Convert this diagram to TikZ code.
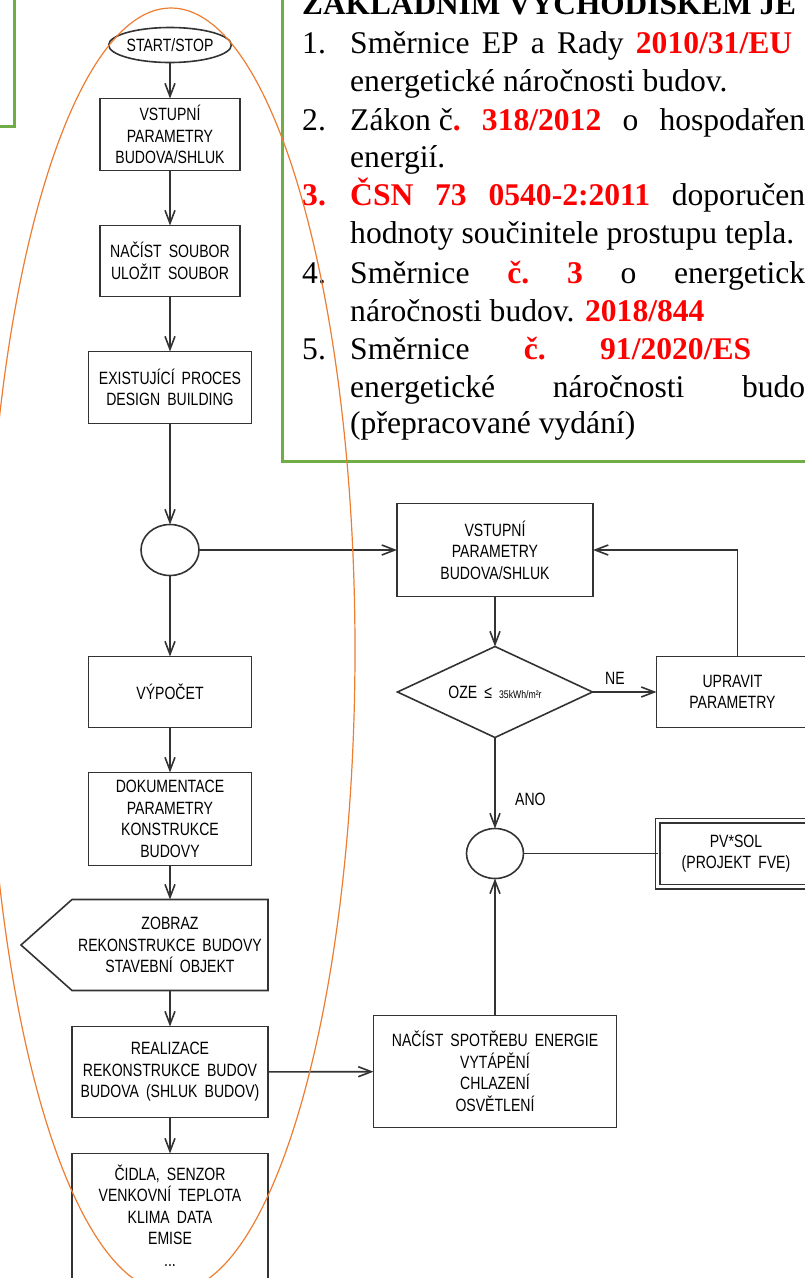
\documentclass[tikz,border=0pt]{standalone}
\usepackage{fontspec}
\setmainfont{Liberation Serif}
\newfontfamily\cadfont[FakeStretch=0.79,WordSpace=1.8]{Liberation Sans}
\usetikzlibrary{positioning,shapes.geometric,arrows.meta}
\definecolor{Frame}{HTML}{70AD47}
\definecolor{Loop}{HTML}{ED7D31}
\definecolor{Ink}{HTML}{333333}
\definecolor{LawRed}{HTML}{FF0000}
\newcommand{\hl}[1]{\textcolor{LawRed}{\textbf{#1}}}

\begin{document}
\begin{tikzpicture}[x=1pt, y=-1pt, every node/.style={font=\cadfont\fontsize{17.8}{21.5}\selectfont}]
        \tikzstyle{blk}=[draw=Ink, line width=1.6pt, fill=white, align=center, inner sep=0pt, outer sep=0pt]
        \tikzstyle{lnk}=[draw=Ink, line width=1.6pt]
        \tikzstyle{arr}=[lnk, -{Straight Barb[length=13pt,width=10pt]}]
        \tikzstyle{law}=[anchor=base west, inner sep=0pt, font=\rmfamily\fontsize{31.6}{38}\selectfont]
        \useasboundingbox (0,0) rectangle (805,1278);
        \clip (0,0) rectangle (805,1278);
        % frames
        \draw[Frame, line width=3pt] (-20,-20) rectangle (14,126);
        \draw[Frame, line width=3pt] (282,-20) rectangle (840,461);
        % legal basis
        \node[law, font=\rmfamily\bfseries\fontsize{31.3}{38}\selectfont] (head) at (302,14) {ZÁKLADNÍM VÝCHODISKEM JE};
        \node[law] (n1) at (302,53) {1.};
        \node[law] (l1) at (350,53) {\makebox[442pt][s]{Směrnice\hfill EP\hfill a\hfill Rady\hfill\hl{2010/31/EU}}};
        \node[law] (l2) at (350,91) {energetické náročnosti budov.};
        \node[law] (n2) at (302,130) {2.};
        \node[law] (l3) at (350,130) {\makebox[455pt][s]{\mbox{Zákon č}\hl{.}\hfill\hl{318/2012}\hfill o\hfill hospodařen}};
        \node[law] (l4) at (350,167) {energií.};
        \node[law] (n3) at (302,205) {\hl{3.}};
        \node[law] (l5) at (350,205) {\makebox[455pt][s]{\hl{ČSN}\hfill\hl{73}\hfill\hl{0540-2:2011}\hfill doporučen}};
        \node[law] (l6) at (350,243) {hodnoty součinitele prostupu tepla.};
        \node[law] (n4) at (302,283) {4.};
        \node[law] (l7) at (350,283) {\makebox[455pt][s]{Směrnice\hfill\hl{č.}\hfill\hl{3}\hfill o\hfill energetick}};
        \node[law] (l8) at (350,321) {náročnosti budov. \hl{2018/844}};
        \node[law] (n5) at (302,359) {5.};
        \node[law] (l9) at (350,359) {\makebox[401pt][s]{Směrnice\hfill\hl{č.}\hfill\hl{91/2020/ES}}};
        \node[law] (l10) at (350,397) {\makebox[455pt][s]{energetické\hfill náročnosti\hfill budo}};
        \node[law] (l11) at (350,433) {(přepracované vydání)};
        % left column
        \node[blk, ellipse, minimum width=105pt, minimum height=35pt] (start) at (170,45) {START/STOP};
        \node[blk, minimum width=140pt, minimum height=72pt, below=36pt of start] (vst1) {VSTUPNÍ\\PARAMETRY\\BUDOVA/SHLUK};
        \node[blk, minimum width=140pt, minimum height=71pt, below=55pt of vst1] (soubor) {NAČÍST SOUBOR\\ULOŽIT SOUBOR};
        \node[blk, minimum width=163pt, minimum height=72pt, below=55pt of soubor] (proces) {EXISTUJÍCÍ PROCES\\DESIGN BUILDING};
        \node[blk, ellipse, minimum width=58pt, minimum height=51pt, below=101pt of proces] (spoj1) {};
        \node[blk, minimum width=163pt, minimum height=71pt, below=81pt of spoj1] (vypocet) {VÝPOČET};
        \node[blk, minimum width=163pt, minimum height=93pt, below=45pt of vypocet] (dokum) {DOKUMENTACE\\PARAMETRY\\KONSTRUKCE\\BUDOVY};
        \node[align=center, inner sep=0pt, outer sep=0pt, minimum width=196pt, minimum height=91pt, below=34pt of dokum] (zobraz) {ZOBRAZ\\REKONSTRUKCE BUDOVY\\STAVEBNÍ OBJEKT};
        \draw[lnk] (zobraz.north west) -- (zobraz.north east) -- (zobraz.south east) -- (zobraz.south west) -- ([xshift=-51pt]zobraz.west) -- cycle;
        \node[blk, minimum width=196pt, minimum height=91pt, below=36pt of zobraz] (realiz) {REALIZACE\\REKONSTRUKCE BUDOV\\BUDOVA (SHLUK BUDOV)};
        \node[align=center, inner sep=0pt, outer sep=0pt, minimum width=196pt, minimum height=124pt, below=36pt of realiz] (cidla) {ČIDLA, SENZOR\\VENKOVNÍ TEPLOTA\\KLIMA DATA\\EMISE\\...};
        \draw[lnk] ([yshift=-40pt]cidla.south west) -- (cidla.north west) -- (cidla.north east) -- ([yshift=-40pt]cidla.south east);
        % right column
        \node[blk, minimum width=196pt, minimum height=93pt, right=198pt of spoj1] (vst2) {VSTUPNÍ\\PARAMETRY\\BUDOVA/SHLUK};
        \node[blk, diamond, aspect=2.14, minimum width=195pt, minimum height=91pt, below=50pt of vst2] (oze) {OZE ≤ {\fontsize{11}{12}\selectfont 35kWh/m²r}};
        \node[blk, minimum width=152pt, minimum height=71pt, right=64pt of oze] (upravit) {UPRAVIT\\PARAMETRY};
        \node[blk, ellipse, minimum width=57pt, minimum height=50pt, below=91pt of oze] (spoj2) {};
        \node[blk, double, double distance=3pt, line width=1.5pt, minimum width=157pt, minimum height=66pt, right=134pt of spoj2] (pvsol) {PV*SOL\\(PROJEKT FVE)};
        \node[blk, minimum width=243pt, minimum height=112pt, below=137pt of spoj2] (spotreba) {NAČÍST SPOTŘEBU ENERGIE\\VYTÁPĚNÍ\\CHLAZENÍ\\OSVĚTLENÍ};
        % connectors
        \draw[arr] (start) -- (vst1);
        \draw[arr] (vst1) -- (soubor);
        \draw[arr] (soubor) -- (proces);
        \draw[arr] (proces) -- (spoj1);
        \draw[arr] (spoj1) -- (vypocet);
        \draw[arr] (vypocet) -- (dokum);
        \draw[arr] (dokum) -- (zobraz);
        \draw[arr] (zobraz) -- (realiz);
        \draw[arr] (realiz) -- (cidla);
        \draw[arr] (spoj1) -- (vst2);
        \draw[arr] (vst2) -- (oze);
        \draw[arr] (oze) -- node[above=3pt, pos=0.35] (ne) {NE} (upravit);
        \draw[arr] ([xshift=5pt]upravit.north) |- (vst2.east);
        \draw[arr] (oze) -- node[right=16pt, pos=0.68] (ano) {ANO} (spoj2);
        \draw[lnk] (spoj2) -- (pvsol);
        \draw[arr] (spotreba) -- (spoj2);
        \draw[arr] (realiz) -- (spotreba);
        % outline of the existing process
        \draw[Loop, line width=1.2pt] (171,650) ellipse [x radius=184pt, y radius=642pt];
      \end{tikzpicture}
\end{document}
